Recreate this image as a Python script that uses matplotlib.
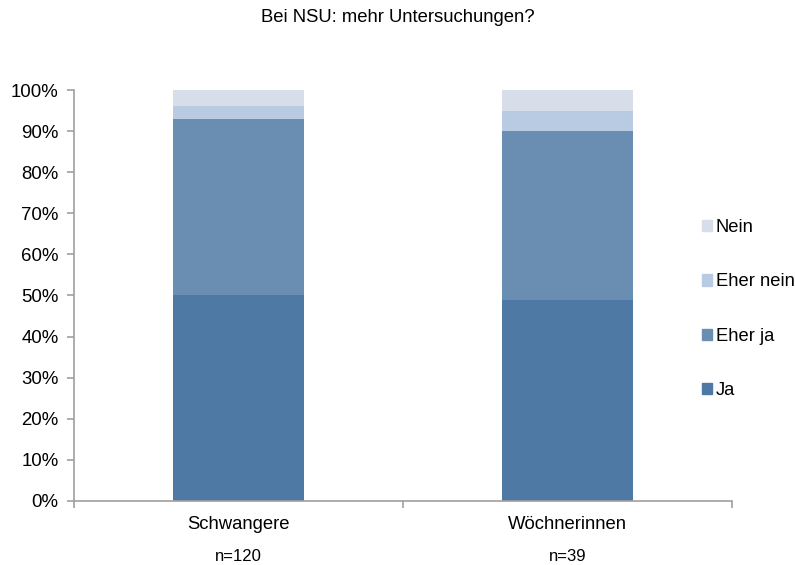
import matplotlib
matplotlib.use('Agg')
import matplotlib.pyplot as plt
import numpy as np
from matplotlib.patches import Patch

plt.rcParams['font.family'] = ['Liberation Sans', 'DejaVu Sans']

groups = ["Schwangere", "Wöchnerinnen"]
n_labels = ["n=120", "n=39"]
answers = ["Ja", "Eher ja", "Eher nein", "Nein"]
# percentages per answer, one value per group
ja = [50.0, 49.0]
eher_ja = [43.0, 41.0]
eher_nein = [3.0, 5.0]
nein = [4.0, 5.0]
colors = ["#4d79a4", "#6a8db2", "#b9cbe3", "#d7deea"]

fig = plt.figure(figsize=(7.95, 5.65), dpi=100)
ax = fig.add_axes([0.0931, 0.1133, 0.8277, 0.7274])

x = np.arange(len(groups))
bottom = np.zeros(len(groups))
for vals, col, lab in zip([ja, eher_ja, eher_nein, nein], colors, answers):
    ax.bar(x, vals, width=0.4, bottom=bottom, color=col, label=lab)
    bottom += np.array(vals)

ax.set_xlim(-0.5, 1.5)
ax.set_ylim(0, 100)
ax.set_yticks(np.arange(0, 101, 10))
ax.set_yticklabels(["%d%%" % v for v in range(0, 101, 10)], fontsize=13.4)
ax.set_xticks(x)
ax.set_xticklabels([])
ax.set_xticks([-0.5, 0.5, 1.5], minor=True)
ax.tick_params(axis='x', which='major', length=0)
ax.tick_params(axis='x', which='minor', length=5, color='#a0a0a0', width=1.2)
ax.tick_params(axis='y', length=5, color='#a0a0a0', width=1.2, pad=6)
for s in ['top', 'right']:
    ax.spines[s].set_visible(False)
for s in ['left', 'bottom']:
    ax.spines[s].set_color('#a0a0a0')
    ax.spines[s].set_linewidth(1.2)

for xi, g, n in zip(x, groups, n_labels):
    ax.text(xi, -5.8, g, ha='center', va='center', fontsize=13.3)
    ax.text(xi, -13.6, n, ha='center', va='center', fontsize=12)

fig.text(0.5, 1 - 18 / 565, "Bei NSU: mehr Untersuchungen?", ha='center', va='center', fontsize=13.3)

handles = [Patch(color=c) for c in colors][::-1]
fig.legend(handles, answers[::-1], loc='center left', bbox_to_anchor=(702 / 795, 1 - 309 / 565),
           frameon=False, fontsize=13.2, handlelength=0.55, handleheight=0.55,
           handletextpad=0.2, labelspacing=2.02, borderaxespad=0, borderpad=0)

plt.savefig("out.png", dpi=100)
